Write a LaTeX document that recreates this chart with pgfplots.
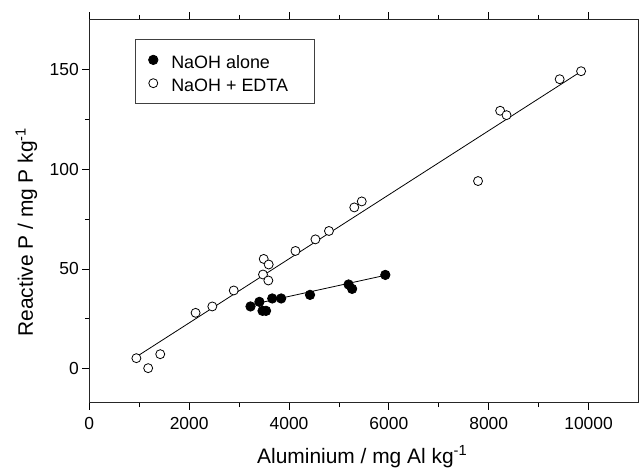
\documentclass[border=0pt]{standalone}
\usepackage{fontspec}
\setmainfont{Liberation Sans}
\usepackage{pgfplots}
\pgfplotsset{compat=1.18}

\begin{document}
\begin{tikzpicture}
\begin{axis}[
  name=ax,
  scale only axis,
  width=549.2bp, height=383.4bp,
  xmin=0, xmax=11000, ymin=-17, ymax=175,
  xtick={0,2000,4000,6000,8000,10000}, minor x tick num=1,
  ytick={0,50,100,150}, minor y tick num=1,
  tick align=outside, tick pos=both,
  xticklabel pos=lower, yticklabel pos=left,
  major tick length=7bp, minor tick length=4.5bp,
  scaled x ticks=false,
  /pgf/number format/assume math mode=true,
  /pgf/number format/1000 sep={},
  tick label style={font=\fontsize{17.5}{20}\selectfont},
  xticklabel style={yshift=-4bp},
  every tick/.style={black, line width=0.8bp},
  axis line style={black!85, line width=0.9bp},
  label style={font=\fontsize{21}{24}\selectfont},
  xlabel={Aluminium / mg Al kg\textsuperscript{-1}},
  ylabel={Reactive P / mg P kg\textsuperscript{-1}},
  xlabel style={at={(rel axis cs:0.497,0)}, anchor=base, yshift=-60.5bp},
  ylabel style={at={(rel axis cs:0,0.445)}, anchor=base, yshift=56.3bp},
  legend style={at={(rel axis cs:0.0832,0.948)}, anchor=north west,
    draw=black!75, line width=0.6bp, font=\fontsize{18}{22}\selectfont,
    inner xsep=0bp, inner ysep=5bp, row sep=-7.4bp, column sep=13bp,
    nodes={inner sep=0bp, text height=23.9bp, text depth=6.8bp}},
  legend cell align=left,
  legend image code/.code={
    \path (-17.7bp,0bp) (4.7bp,0bp);
    \draw[#1] plot coordinates {(0bp,0bp)};
  },
]
% fitted lines
\addplot[black, line width=0.8bp, forget plot] coordinates {(943,6.0) (9850,148.9)};
\addplot[black, line width=0.8bp, forget plot] coordinates {(3229,32.0) (5929,46.8)};

\addplot[only marks, mark=*, mark size=4.7bp, mark options={fill=black, draw=black, line width=0.8bp}] coordinates {
  (3229,31.2) (3407,33.5) (3470,29.0) (3540,29.0) (3664,35.2) (3843,35.2)
  (4421,37.0) (5193,42.2) (5264,40.0) (5929,47.0)
};
\addlegendentry{NaOH alone\kern26.6bp}
\addplot[only marks, mark=*, mark size=4.5bp, mark options={fill=white, draw=black, line width=0.8bp}] coordinates {
  (943,5.3) (1179,0.3) (1421,7.3) (2129,28.0) (2464,31.2) (2893,39.2)
  (3493,55.0) (3593,52.2) (3479,47.2) (3586,44.2) (4129,59.0) (4529,64.8)
  (4800,69.0) (5307,80.8) (5457,83.8) (7786,94.0) (8229,129.2) (8357,127.0)
  (9421,145.0) (9850,149.0)
};
\addlegendentry{NaOH + EDTA\kern26.6bp}

% axis line overshoot
\draw[black!85, line width=0.9bp] (rel axis cs:0,1) -- ++(0,7bp);
\draw[black!85, line width=0.9bp] (rel axis cs:0,0) -- ++(0,-6.5bp);
\draw[black!85, line width=0.9bp] (rel axis cs:0,1) -- ++(-4.5bp,0);
\draw[black!85, line width=0.9bp] (rel axis cs:1,1) -- ++(0,5bp);
\end{axis}
\pgfresetboundingbox
\path ([shift={(-89.3bp,-67.3bp)}]ax.south west) rectangle ([shift={(0.5bp,19.3bp)}]ax.north east);
\end{tikzpicture}
\end{document}
